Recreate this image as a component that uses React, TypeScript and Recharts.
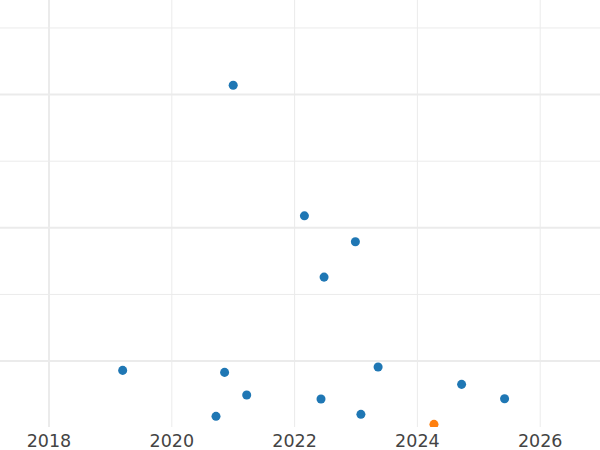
import { ScatterChart, Scatter, XAxis, YAxis, CartesianGrid } from "recharts";

const blueYears = [
  2021.0, 2022.16, 2022.99, 2022.48, 2019.2, 2020.86, 2021.22, 2020.72, 2022.43,
  2023.08, 2023.36, 2024.72, 2025.42,
];
const blueValues = [51.4, 31.8, 27.9, 22.6, 8.6, 8.3, 4.9, 1.7, 4.3, 2.0, 9.1, 6.5, 4.35];

const orangeYears = [2024.27];
const orangeValues = [0.5];

const yearTicks = [2018, 2020, 2022, 2024, 2026];
const majorY = [10, 30, 50];
const minorY = [20, 40, 60];

const blueData = blueYears.map((x, i) => ({ x, y: blueValues[i] }));
const orangeData = orangeYears.map((x, i) => ({ x, y: orangeValues[i] }));

export default function App() {
  return (
    <div style={{ position: "absolute", left: 0, top: 0 }}>
      <ScatterChart width={600} height={450} margin={{ top: 0, right: 0, bottom: 0, left: 0 }}>
        {/* thin horizontal grid */}
        <CartesianGrid vertical={false} horizontalValues={minorY} stroke="#ebebeb" strokeWidth={1} />
        {/* thick horizontal grid */}
        <CartesianGrid vertical={false} horizontalValues={majorY} stroke="#ebebeb" strokeWidth={2} />
        <CartesianGrid horizontal={false} verticalValues={yearTicks.slice(1)} stroke="#ebebeb" strokeWidth={1} />
        <CartesianGrid horizontal={false} verticalValues={[yearTicks[0]]} stroke="#ebebeb" strokeWidth={2} />
        <XAxis
          type="number"
          dataKey="x"
          domain={[2017.202, 2026.974]}
          ticks={yearTicks}
          interval={0}
          allowDataOverflow
          axisLine={false}
          tickLine={false}
          tickSize={0}
          tickMargin={8}
          height={23}
          tick={{ fill: "#444", fontSize: 17.5, fontFamily: "DejaVu Sans" }}
        />
        <YAxis type="number" dataKey="y" domain={[0.1, 64.2]} allowDataOverflow hide />
        <Scatter data={blueData} fill="#1f77b4" isAnimationActive={false} />
        <Scatter data={orangeData} fill="#ff7f0e" isAnimationActive={false} />
      </ScatterChart>
    </div>
  );
}
